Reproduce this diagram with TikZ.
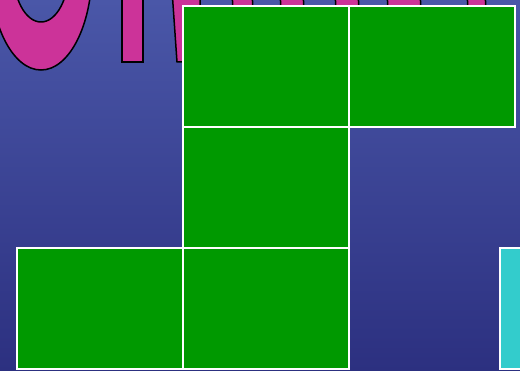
\documentclass[tikz,border=0pt]{standalone}
\usepackage{tikz}
\usetikzlibrary{positioning}
\definecolor{bgtop}{HTML}{4A57A8}
\definecolor{bgmid}{HTML}{3E46A0}
\definecolor{bgbot}{HTML}{2C3080}
\definecolor{cellgreen}{HTML}{009900}
\definecolor{cellcyan}{HTML}{33CCCC}
\definecolor{letterpink}{HTML}{CC3399}

\begin{document}
\begin{tikzpicture}[x=0.02cm, y=-0.02cm,
  cell/.style={draw=white, fill=cellgreen, line width=0.04cm,
              minimum width=3.32cm, minimum height=2.42cm,
              inner sep=0pt, outer sep=0pt},
  letter/.style={fill=letterpink, draw=black, line width=0.03cm},
  node distance=0pt,
]
\useasboundingbox (0,0) rectangle (520,371);
\clip (0,0) rectangle (520,371);
\shade[top color=bgtop, middle color=bgmid, bottom color=bgbot] (0,0) rectangle (520,371);

% big letters, cut off at the top
\draw[letter, even odd rule] (41,-30) ellipse (51 and 100) (41,-30) ellipse (28 and 52);
\draw[letter] (122,-10) rectangle (143,62);
\draw[letter] (172,-10) -- (177,62) -- (200,62) -- (200,-10) -- cycle;
\foreach \a/\b in {232/252, 280/303, 335/358, 387/420, 467/485}
  \draw[letter] (\a,-10) -- (\b,-10) -- (\b+1,12) -- (\a+1,12) -- cycle;

% net of squares
\node[cell] (a1) at (266,66.5) {};
\node[cell, right=of a1] (a2) {};
\node[cell, below=of a1] (b1) {};
\node[cell, below=of b1] (c2) {};
\node[cell, left=of c2] (c1) {};
\node[cell, fill=cellcyan, right=3.02cm of c2] (c4) {};
\end{tikzpicture}
\end{document}
